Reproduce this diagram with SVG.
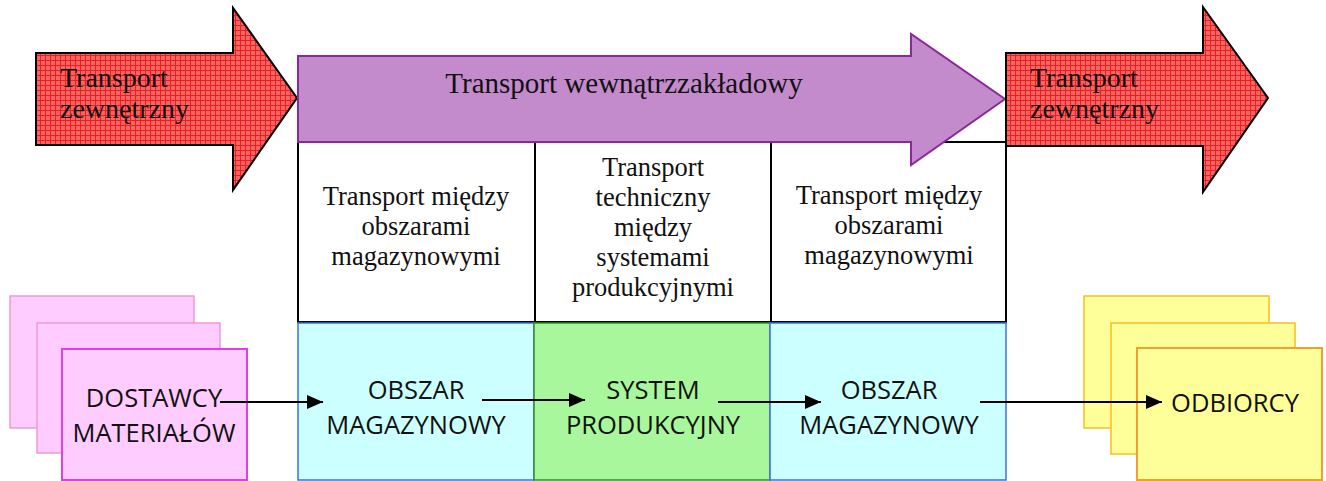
<svg xmlns="http://www.w3.org/2000/svg" width="1326" height="481" viewBox="0 0 1326 481">
<defs>
<pattern id="hatch" width="5" height="5" patternUnits="userSpaceOnUse">
<rect width="5" height="5" fill="#f86464"/>
<path d="M0 0.5H5M0.5 0V5" stroke="#e82020" stroke-width="1"/>
</pattern>
<marker id="ah" markerWidth="16" markerHeight="14" refX="16" refY="7" orient="auto" markerUnits="userSpaceOnUse">
<path d="M0 0L16 7L0 14Z" fill="#000"/>
</marker>
</defs>
<style>
.serif{font-family:"Liberation Serif","Times New Roman",serif;fill:#111;text-anchor:middle}
.lt{text-anchor:start}
.sans{font-family:"Open Sans","Noto Sans",sans-serif;fill:#111;text-anchor:middle;font-size:25.5px}
.red{fill:url(#hatch);stroke:#000;stroke-width:2}
.cell{fill:#fff;stroke:#000;stroke-width:2}
.cyan{fill:#ccffff;stroke:#3f6fe0;stroke-width:1.5}
.green{fill:#a8f79c;stroke:#2f8f2f;stroke-width:1.5}
.pinkb{fill:#ffccff;stroke:#f19ad0;stroke-width:1.5}
.pinkf{fill:#ffccff;stroke:#e040e0;stroke-width:2}
.yel{fill:#ffff99;stroke:#f5c020;stroke-width:1.5}
.yelf{fill:#ffff99;stroke:#f0a030;stroke-width:2}
.conn{stroke:#000;stroke-width:1.8;fill:none;marker-end:url(#ah)}
</style>

<g id="transport-zewn-left">
<path class="red" d="M36 53H233V8L297 98L233 190V145H36Z"/>
<text class="serif lt" font-size="28" x="60" y="87">Transport</text>
<text class="serif lt" font-size="28" x="60" y="118">zewnętrzny</text>
</g>

<g id="table-top">
<rect class="cell" x="298" y="142" width="237" height="180"/>
<rect class="cell" x="535" y="142" width="236" height="180"/>
<rect class="cell" x="771" y="142" width="235" height="180"/>
</g>

<g id="transport-wewn">
<path d="M298 56H911V34L1005 99L911 165V142H298Z" fill="#c48bcc" stroke="#8a2a9a" stroke-width="2"/>
<text class="serif" font-size="29" x="624" y="93">Transport wewnątrzzakładowy</text>
</g>

<g id="transport-zewn-right">
<path class="red" d="M1006 53H1203V7L1268 98L1203 192V146H1006Z"/>
<text class="serif lt" font-size="28" x="1030" y="87">Transport</text>
<text class="serif lt" font-size="28" x="1030" y="118">zewnętrzny</text>
</g>

<g id="label-col1">
<text class="serif" font-size="26.5" x="416" y="205">Transport między</text>
<text class="serif" font-size="26.5" x="416" y="235">obszarami</text>
<text class="serif" font-size="26.5" x="416" y="265">magazynowymi</text>
</g>
<g id="label-col2">
<text class="serif" font-size="26.5" x="653" y="176">Transport</text>
<text class="serif" font-size="26.5" x="653" y="206">techniczny</text>
<text class="serif" font-size="26.5" x="653" y="236">między</text>
<text class="serif" font-size="26.5" x="653" y="266">systemami</text>
<text class="serif" font-size="26.5" x="653" y="296">produkcyjnymi</text>
</g>
<g id="label-col3">
<text class="serif" font-size="26.5" x="889" y="204">Transport między</text>
<text class="serif" font-size="26.5" x="889" y="234">obszarami</text>
<text class="serif" font-size="26.5" x="889" y="264">magazynowymi</text>
</g>

<g id="dostawcy">
<rect class="pinkb" x="10" y="296" width="184" height="132"/>
<rect class="pinkb" x="37" y="323" width="183" height="130"/>
<rect class="pinkf" x="62" y="349" width="185" height="131"/>
<text class="sans" x="154" y="407">DOSTAWCY</text>
<text class="sans" x="154" y="442">MATERIAŁÓW</text>
</g>

<g id="obszar1">
<rect class="cyan" x="298" y="323" width="236" height="157"/>
<text class="sans" x="416" y="399">OBSZAR</text>
<text class="sans" x="416" y="434">MAGAZYNOWY</text>
</g>

<g id="system">
<rect class="green" x="534" y="323" width="236" height="157"/>
<text class="sans" x="653" y="399">SYSTEM</text>
<text class="sans" x="653" y="434">PRODUKCYJNY</text>
</g>

<g id="obszar2">
<rect class="cyan" x="770" y="323" width="236" height="157"/>
<text class="sans" x="889" y="399">OBSZAR</text>
<text class="sans" x="889" y="434">MAGAZYNOWY</text>
</g>

<g id="odbiorcy">
<rect class="yel" x="1084" y="296" width="185" height="132"/>
<rect class="yel" x="1111" y="323" width="184" height="131"/>
<rect class="yelf" x="1137" y="348" width="185" height="132"/>
<text class="sans" x="1235" y="412">ODBIORCY</text>
</g>

<g id="connectors">
<line class="conn" x1="220" y1="402" x2="323" y2="402"/>
<line class="conn" x1="482" y1="400" x2="585" y2="400"/>
<line class="conn" x1="718" y1="402" x2="821" y2="402"/>
<line class="conn" x1="980" y1="402" x2="1162" y2="402"/>
</g>
</svg>
